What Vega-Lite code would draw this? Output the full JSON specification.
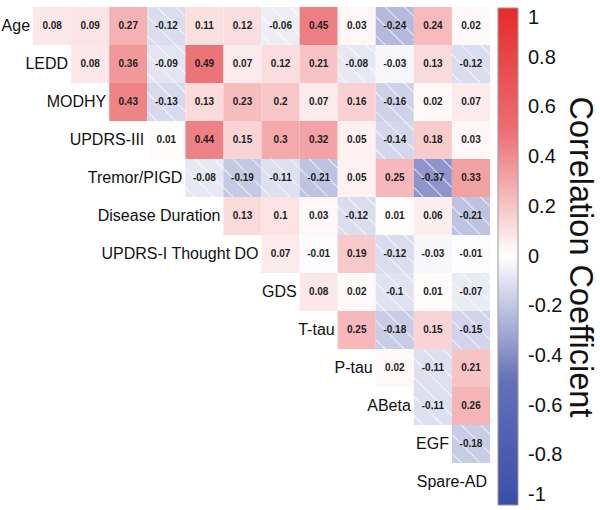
{
  "$schema": "https://vega.github.io/schema/vega-lite/v6.json",
  "width": 495,
  "height": 494,
  "autosize": {"type": "none"},
  "padding": {"left": -5, "top": 7, "right": 110, "bottom": 9},
  "background": "white",
  "config": {"view": {"stroke": null}, "font": "Liberation Sans"},
  "datasets": {
    "cells": [
      {"row": "Age", "col": "LEDD", "r": 0.08},
      {"row": "Age", "col": "MODHY", "r": 0.09},
      {"row": "Age", "col": "UPDRS-III", "r": 0.27},
      {"row": "Age", "col": "Tremor/PIGD", "r": -0.12},
      {"row": "Age", "col": "Disease Duration", "r": 0.11},
      {"row": "Age", "col": "UPDRS-I Thought DO", "r": 0.12},
      {"row": "Age", "col": "GDS", "r": -0.06},
      {"row": "Age", "col": "T-tau", "r": 0.45},
      {"row": "Age", "col": "P-tau", "r": 0.03},
      {"row": "Age", "col": "ABeta", "r": -0.24},
      {"row": "Age", "col": "EGF", "r": 0.24},
      {"row": "Age", "col": "Spare-AD", "r": 0.02},
      {"row": "LEDD", "col": "MODHY", "r": 0.08},
      {"row": "LEDD", "col": "UPDRS-III", "r": 0.36},
      {"row": "LEDD", "col": "Tremor/PIGD", "r": -0.09},
      {"row": "LEDD", "col": "Disease Duration", "r": 0.49},
      {"row": "LEDD", "col": "UPDRS-I Thought DO", "r": 0.07},
      {"row": "LEDD", "col": "GDS", "r": 0.12},
      {"row": "LEDD", "col": "T-tau", "r": 0.21},
      {"row": "LEDD", "col": "P-tau", "r": -0.08},
      {"row": "LEDD", "col": "ABeta", "r": -0.03},
      {"row": "LEDD", "col": "EGF", "r": 0.13},
      {"row": "LEDD", "col": "Spare-AD", "r": -0.12},
      {"row": "MODHY", "col": "UPDRS-III", "r": 0.43},
      {"row": "MODHY", "col": "Tremor/PIGD", "r": -0.13},
      {"row": "MODHY", "col": "Disease Duration", "r": 0.13},
      {"row": "MODHY", "col": "UPDRS-I Thought DO", "r": 0.23},
      {"row": "MODHY", "col": "GDS", "r": 0.2},
      {"row": "MODHY", "col": "T-tau", "r": 0.07},
      {"row": "MODHY", "col": "P-tau", "r": 0.16},
      {"row": "MODHY", "col": "ABeta", "r": -0.16},
      {"row": "MODHY", "col": "EGF", "r": 0.02},
      {"row": "MODHY", "col": "Spare-AD", "r": 0.07},
      {"row": "UPDRS-III", "col": "Tremor/PIGD", "r": 0.01},
      {"row": "UPDRS-III", "col": "Disease Duration", "r": 0.44},
      {"row": "UPDRS-III", "col": "UPDRS-I Thought DO", "r": 0.15},
      {"row": "UPDRS-III", "col": "GDS", "r": 0.3},
      {"row": "UPDRS-III", "col": "T-tau", "r": 0.32},
      {"row": "UPDRS-III", "col": "P-tau", "r": 0.05},
      {"row": "UPDRS-III", "col": "ABeta", "r": -0.14},
      {"row": "UPDRS-III", "col": "EGF", "r": 0.18},
      {"row": "UPDRS-III", "col": "Spare-AD", "r": 0.03},
      {"row": "Tremor/PIGD", "col": "Disease Duration", "r": -0.08},
      {"row": "Tremor/PIGD", "col": "UPDRS-I Thought DO", "r": -0.19},
      {"row": "Tremor/PIGD", "col": "GDS", "r": -0.11},
      {"row": "Tremor/PIGD", "col": "T-tau", "r": -0.21},
      {"row": "Tremor/PIGD", "col": "P-tau", "r": 0.05},
      {"row": "Tremor/PIGD", "col": "ABeta", "r": 0.25},
      {"row": "Tremor/PIGD", "col": "EGF", "r": -0.37},
      {"row": "Tremor/PIGD", "col": "Spare-AD", "r": 0.33},
      {"row": "Disease Duration", "col": "UPDRS-I Thought DO", "r": 0.13},
      {"row": "Disease Duration", "col": "GDS", "r": 0.1},
      {"row": "Disease Duration", "col": "T-tau", "r": 0.03},
      {"row": "Disease Duration", "col": "P-tau", "r": -0.12},
      {"row": "Disease Duration", "col": "ABeta", "r": 0.01},
      {"row": "Disease Duration", "col": "EGF", "r": 0.06},
      {"row": "Disease Duration", "col": "Spare-AD", "r": -0.21},
      {"row": "UPDRS-I Thought DO", "col": "GDS", "r": 0.07},
      {"row": "UPDRS-I Thought DO", "col": "T-tau", "r": -0.01},
      {"row": "UPDRS-I Thought DO", "col": "P-tau", "r": 0.19},
      {"row": "UPDRS-I Thought DO", "col": "ABeta", "r": -0.12},
      {"row": "UPDRS-I Thought DO", "col": "EGF", "r": -0.03},
      {"row": "UPDRS-I Thought DO", "col": "Spare-AD", "r": -0.01},
      {"row": "GDS", "col": "T-tau", "r": 0.08},
      {"row": "GDS", "col": "P-tau", "r": 0.02},
      {"row": "GDS", "col": "ABeta", "r": -0.1},
      {"row": "GDS", "col": "EGF", "r": 0.01},
      {"row": "GDS", "col": "Spare-AD", "r": -0.07},
      {"row": "T-tau", "col": "P-tau", "r": 0.25},
      {"row": "T-tau", "col": "ABeta", "r": -0.18},
      {"row": "T-tau", "col": "EGF", "r": 0.15},
      {"row": "T-tau", "col": "Spare-AD", "r": -0.15},
      {"row": "P-tau", "col": "ABeta", "r": 0.02},
      {"row": "P-tau", "col": "EGF", "r": -0.11},
      {"row": "P-tau", "col": "Spare-AD", "r": 0.21},
      {"row": "ABeta", "col": "EGF", "r": -0.11},
      {"row": "ABeta", "col": "Spare-AD", "r": 0.26},
      {"row": "EGF", "col": "Spare-AD", "r": -0.18}
    ],
    "labels": [
      {"row": "Age", "col": "Age"},
      {"row": "LEDD", "col": "LEDD"},
      {"row": "MODHY", "col": "MODHY"},
      {"row": "UPDRS-III", "col": "UPDRS-III"},
      {"row": "Tremor/PIGD", "col": "Tremor/PIGD"},
      {"row": "Disease Duration", "col": "Disease Duration"},
      {"row": "UPDRS-I Thought DO", "col": "UPDRS-I Thought DO"},
      {"row": "GDS", "col": "GDS"},
      {"row": "T-tau", "col": "T-tau"},
      {"row": "P-tau", "col": "P-tau"},
      {"row": "ABeta", "col": "ABeta"},
      {"row": "EGF", "col": "EGF"},
      {"row": "Spare-AD", "col": "Spare-AD"}
    ]
  },
  "encoding": {
    "x": {"field": "col", "type": "nominal", "sort": null, "axis": null,
      "scale": {"domain": ["Age","LEDD","MODHY","UPDRS-III","Tremor/PIGD","Disease Duration","UPDRS-I Thought DO","GDS","T-tau","P-tau","ABeta","EGF","Spare-AD"], "paddingInner": 0, "paddingOuter": 0}},
    "y": {"field": "row", "type": "nominal", "sort": null, "axis": null,
      "scale": {"domain": ["Age","LEDD","MODHY","UPDRS-III","Tremor/PIGD","Disease Duration","UPDRS-I Thought DO","GDS","T-tau","P-tau","ABeta","EGF","Spare-AD"], "paddingInner": 0, "paddingOuter": 0}}
  },
  "layer": [
    {
      "data": {"name": "cells"},
      "mark": {"type": "rect"},
      "encoding": {
        "color": {"field": "r", "type": "quantitative",
          "scale": {"domain": [-1, -0.5, 0, 0.5, 1], "range": ["#3a4ea8", "#6570b8", "#ffffff", "#ec7074", "#e62a2a"], "interpolate": "rgb"},
          "legend": {"orient": "none", "legendX": 503, "legendY": 1, "direction": "vertical",
            "gradientLength": 497, "gradientThickness": 20,
            "values": [-1, -0.8, -0.6, -0.4, -0.2, 0, 0.2, 0.4, 0.6, 0.8, 1],
            "labelExpr": "'' + datum.value",
            "labelFontSize": 20, "labelFont": "Liberation Sans", "labelColor": "#111", "labelOffset": 10,
            "title": "Correlation Coefficient", "titleOrient": "right", "titleAngle": 90, "titleAnchor": "middle",
            "titleFontSize": 32.5, "titleFont": "Liberation Sans", "titleFontWeight": "normal", "titleColor": "#111", "titlePadding": 1, "titleLimit": 800,
            "gradientStrokeColor": "#999", "gradientStrokeWidth": 1}
        }
      }
    },
    {
      "data": {"name": "cells"},
      "transform": [{"filter": "datum.r < 0"}],
      "mark": {"type": "point", "shape": "M-1,0.5L-0.5,1M-1,-0.5L0.5,1M-0.5,-1L1,0.5M0.5,-1L1,-0.5", "filled": false, "stroke": "white", "strokeWidth": 1.1, "opacity": 0.6, "size": 1444}
    },
    {
      "data": {"name": "cells"},
      "mark": {"type": "text", "fontSize": 10, "fontWeight": "bold", "color": "#222", "font": "Liberation Sans"},
      "encoding": {"text": {"field": "r", "type": "nominal"}}
    },
    {
      "data": {"name": "labels"},
      "mark": {"type": "text", "fontSize": 16, "align": "right", "dx": -3, "color": "#111", "font": "Liberation Sans"},
      "encoding": {
        "x": {"field": "col", "type": "nominal", "sort": null, "bandPosition": 1, "axis": null},
        "text": {"field": "col", "type": "nominal"}
      }
    }
  ]
}
